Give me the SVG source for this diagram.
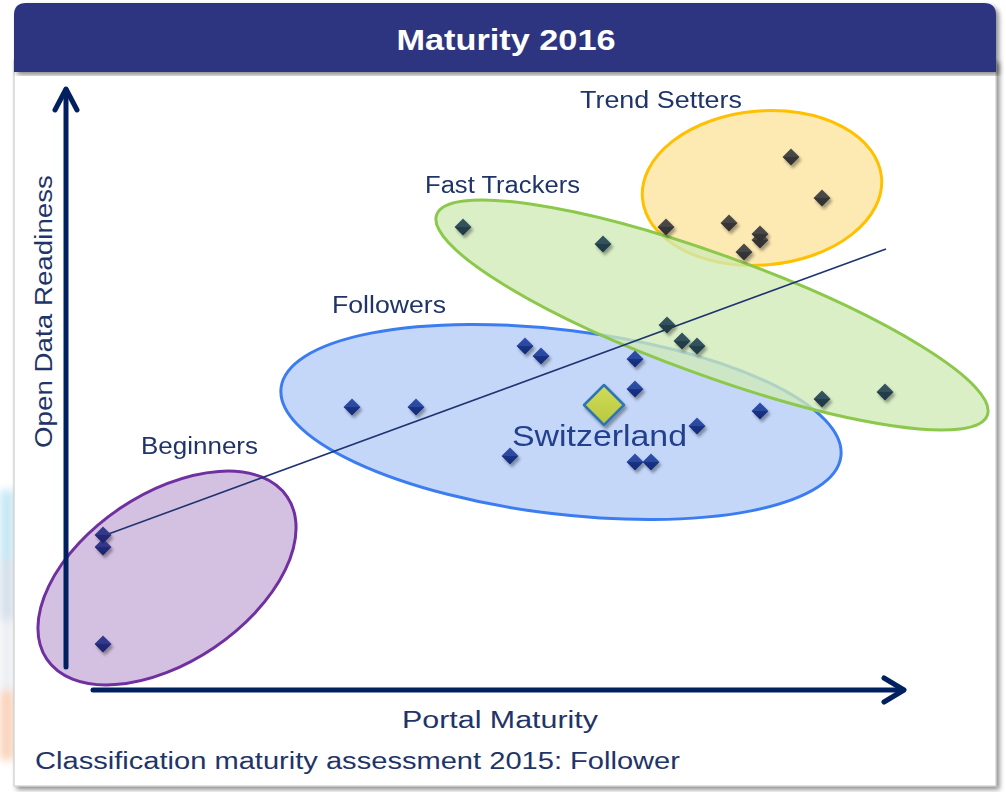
<svg xmlns="http://www.w3.org/2000/svg" xmlns:xlink="http://www.w3.org/1999/xlink" width="1006" height="792" viewBox="0 0 1006 792">
<defs>
<style>
.lbl{font-family:"Liberation Sans",Arial,sans-serif;fill:#1f3468;font-size:23px}
.axis{stroke:#002060;stroke-width:5;fill:none;stroke-linecap:round;stroke-linejoin:round}
.ell{stroke-width:3}
</style>
<filter id="sh" x="-20%" y="-20%" width="150%" height="150%"><feDropShadow dx="2" dy="3" stdDeviation="1.6" flood-color="#000" flood-opacity="0.35"/></filter>
<filter id="psh" x="-5%" y="-5%" width="110%" height="110%"><feDropShadow dx="3" dy="3" stdDeviation="2.5" flood-color="#000" flood-opacity="0.45"/></filter>
<filter id="blur"><feGaussianBlur stdDeviation="4"/></filter>
<linearGradient id="gB" x1="0" y1="0" x2="0" y2="1"><stop offset="0" stop-color="#2f4fa8"/><stop offset="0.5" stop-color="#2a48a0"/><stop offset="0.5" stop-color="#1a3284"/><stop offset="1" stop-color="#142a78"/></linearGradient>
<linearGradient id="gP" x1="0" y1="0" x2="0" y2="1"><stop offset="0" stop-color="#353b8c"/><stop offset="0.5" stop-color="#30368a"/><stop offset="0.5" stop-color="#232a78"/><stop offset="1" stop-color="#1d236c"/></linearGradient>
<linearGradient id="gT" x1="0" y1="0" x2="0" y2="1"><stop offset="0" stop-color="#35555f"/><stop offset="0.5" stop-color="#30505a"/><stop offset="0.5" stop-color="#233f49"/><stop offset="1" stop-color="#1e3943"/></linearGradient>
<linearGradient id="gG" x1="0" y1="0" x2="0" y2="1"><stop offset="0" stop-color="#4a4a4a"/><stop offset="0.5" stop-color="#454545"/><stop offset="0.5" stop-color="#363636"/><stop offset="1" stop-color="#303030"/></linearGradient>
<linearGradient id="gS" x1="0" y1="0" x2="0" y2="1"><stop offset="0" stop-color="#d0dc5a"/><stop offset="1" stop-color="#b8c83c"/></linearGradient>
<polygon id="dm" points="0,-8.5 8.5,0 0,8.5 -8.5,0"/>
</defs>

<!-- faint background logo peeking on the left -->
<g opacity="0.6" filter="url(#blur)">
<rect x="0" y="490" width="14" height="70" fill="#9fd6ee"/>
<rect x="0" y="560" width="14" height="60" fill="#b7c9dc"/>
<rect x="0" y="620" width="14" height="70" fill="#dfe3ea"/>
<rect x="0" y="690" width="14" height="70" fill="#f6b48a"/>
</g>

<!-- panel -->
<rect x="14" y="60" width="982" height="726" fill="#ffffff" stroke="#c4c4c4" stroke-width="1" filter="url(#psh)"/>
<g id="title">
<path d="M14,72 V15 Q14,3 26,3 H984 Q996,3 996,15 V72 Z" fill="#2d3580" filter="url(#psh)"/>
<text x="506" y="50" text-anchor="middle" font-family="Liberation Sans,Arial,sans-serif" font-weight="bold" font-size="30" fill="#ffffff" textLength="219" lengthAdjust="spacingAndGlyphs">Maturity 2016</text>
</g>

<!-- clusters -->
<g id="beginners">
<ellipse class="ell" cx="167" cy="578" rx="145" ry="84" transform="rotate(-34 167 578)" fill="#d4c1e2" stroke="#7030a0"/>
</g>
<g id="followers">
<ellipse class="ell" cx="561" cy="422" rx="282" ry="92" transform="rotate(7 561 422)" fill="#c5d7f9" stroke="#3b7df0"/>
</g>
<g id="trend-setters">
<ellipse class="ell" cx="762" cy="188" rx="120" ry="77" transform="rotate(-5 762 188)" fill="#fde9b2" stroke="#ffc000"/>
</g>
<g id="fast-trackers">
<ellipse cx="712" cy="315" rx="293" ry="60" transform="rotate(20 712 315)" fill="#d0eab6" fill-opacity="0.78" stroke="#8cc84b" stroke-width="3"/>
</g>

<!-- axes and trend line -->
<g id="connectors">
<line x1="66" y1="90" x2="66" y2="667" class="axis"/>
<polyline points="55,110 66,89 77,110" class="axis"/>
<line x1="93" y1="690" x2="903" y2="690" class="axis"/>
<polyline points="884,678 904,690 884,702" class="axis"/>
<line x1="103" y1="536" x2="886" y2="249" stroke="#1f3470" stroke-width="1.6"/>
</g>

<!-- data points -->
<g id="points-beginners" fill="url(#gP)" filter="url(#sh)">
<use href="#dm" x="103" y="547"/>
<use href="#dm" x="103" y="535"/>
<use href="#dm" x="103" y="644"/>
</g>
<g id="points-followers" fill="url(#gB)" filter="url(#sh)">
<use href="#dm" x="352" y="407"/>
<use href="#dm" x="416" y="407"/>
<use href="#dm" x="525" y="346"/>
<use href="#dm" x="541" y="356"/>
<use href="#dm" x="635" y="359"/>
<use href="#dm" x="635" y="389"/>
<use href="#dm" x="510" y="456"/>
<use href="#dm" x="697" y="426"/>
<use href="#dm" x="635" y="462"/>
<use href="#dm" x="651" y="462"/>
<use href="#dm" x="760" y="411"/>
</g>
<g id="points-fast-trackers" fill="url(#gT)" filter="url(#sh)">
<use href="#dm" x="463" y="227"/>
<use href="#dm" x="603" y="244"/>
<use href="#dm" x="667" y="325"/>
<use href="#dm" x="682" y="341"/>
<use href="#dm" x="697" y="346"/>
<use href="#dm" x="822" y="399"/>
<use href="#dm" x="885" y="392"/>
</g>
<g id="points-trend-setters" fill="url(#gG)" filter="url(#sh)">
<use href="#dm" x="791" y="157"/>
<use href="#dm" x="822" y="198"/>
<use href="#dm" x="729" y="223"/>
<use href="#dm" x="666" y="227"/>
<use href="#dm" x="760" y="240"/>
<use href="#dm" x="760" y="234"/>
<use href="#dm" x="744" y="252"/>
</g>
<g id="switzerland">
<polygon points="604,385 624,405 604,425 584,405" fill="url(#gS)" stroke="#2e75b6" stroke-width="2.5" stroke-linejoin="round" filter="url(#sh)"/>
<text x="512" y="446" font-family="Liberation Sans,Arial,sans-serif" font-size="30" fill="#22408c" textLength="175" lengthAdjust="spacingAndGlyphs">Switzerland</text>
</g>

<!-- labels -->
<g id="labels">
<text class="lbl" x="580" y="108" textLength="162" lengthAdjust="spacingAndGlyphs">Trend Setters</text>
<text class="lbl" x="425" y="193" textLength="155" lengthAdjust="spacingAndGlyphs">Fast Trackers</text>
<text class="lbl" x="332" y="313" textLength="114" lengthAdjust="spacingAndGlyphs">Followers</text>
<text class="lbl" x="141" y="454" textLength="117" lengthAdjust="spacingAndGlyphs">Beginners</text>
<text class="lbl" x="0" y="0" transform="translate(52 448) rotate(-90)" font-size="24" textLength="273" lengthAdjust="spacingAndGlyphs">Open Data Readiness</text>
<text class="lbl" x="402" y="728" font-size="24" textLength="196" lengthAdjust="spacingAndGlyphs">Portal Maturity</text>
<text class="lbl" x="35" y="769" font-size="24" textLength="645" lengthAdjust="spacingAndGlyphs">Classification maturity assessment 2015: Follower</text>
</g>
</svg>
